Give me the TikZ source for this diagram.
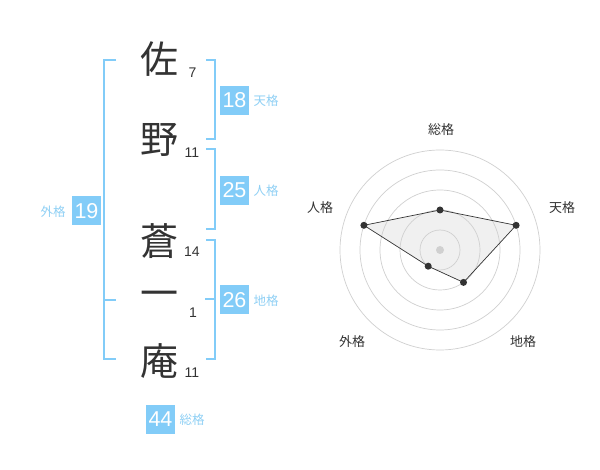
\documentclass[tikz,border=0pt]{standalone}
\usepackage{fontspec}
\setmainfont{Liberation Sans}
\newfontfamily\jp{Noto Sans CJK JP}
\definecolor{bl}{HTML}{82CCF8}
\definecolor{lbl}{HTML}{8FD0F5}
\definecolor{dk}{HTML}{333333}
\definecolor{ring}{HTML}{D0D0D0}
\definecolor{polyfill}{HTML}{F0F0F0}
\tikzset{
  bigchar/.style={inner sep=0pt, text=dk, font=\jp\fontsize{38}{38}\selectfont},
  strokes/.style={inner sep=0pt, text=dk, font=\fontsize{14}{14}\selectfont},
  numbox/.style={fill=bl, text=white, minimum width=29pt, minimum height=29pt, inner sep=0pt, font=\fontsize{21.5}{21.5}\selectfont},
  kaku/.style={inner sep=0pt, text=lbl, font=\jp\fontsize{12.5}{12.5}\selectfont},
  bracket/.style={draw=bl, line width=2pt},
  radlabel/.style={inner sep=0pt, text=dk, font=\jp\fontsize{13}{13}\selectfont},
  ringline/.style={draw=ring, line width=0.7pt},
  vdot/.style={circle, fill=dk, inner sep=0pt, minimum size=7pt},
}
\begin{document}
\begin{tikzpicture}[x=1pt,y=-1pt]
\useasboundingbox[fill=white] (0,0) rectangle (600,470);

% characters
\node[bigchar] (c1) at (159,59) {佐};
\node[bigchar] (c2) at (159,140) {野};
\node[bigchar] (c3) at (159,241) {蒼};
\node[bigchar] (c4) at (159,299) {一};
\node[bigchar] (c5) at (159,361.5) {庵};

% stroke counts
\node[strokes] (s1) at (192.5,72.5) {7};
\node[strokes] (s2) at (192,153) {11};
\node[strokes] (s3) at (192,252) {14};
\node[strokes] (s4) at (193,313) {1};
\node[strokes] (s5) at (192,373) {11};

% brackets
\coordinate (la) at (116,60);
\coordinate (lb) at (116,359);
\draw[bracket] (la) -- (104,60) -- (104,359) -- (lb);
\draw[bracket] (104,300) -- (116,300);
\draw[bracket] (206,60) -- (214.5,60) -- (214.5,139.5) -- (206,139.5);
\draw[bracket] (206,149.5) -- (214.5,149.5) -- (214.5,229.5) -- (206,229.5);
\draw[bracket] (206,240) -- (214.5,240) -- (214.5,359.5) -- (206,359.5);
\draw[bracket] (205,299.5) -- (214.5,299.5);

% number boxes and labels
\node[numbox] (b18) at (234.5,100.5) {18};
\node[kaku] (k18) at (266,101) {天格};
\node[numbox] (b25) at (234.5,190.5) {25};
\node[kaku] (k25) at (266,191) {人格};
\node[numbox] (b26) at (234.5,300) {26};
\node[kaku] (k26) at (266,300.5) {地格};
\node[numbox] (b19) at (86.5,211) {19};
\node[kaku] (k19) at (53,211.5) {外格};
\node[numbox] (b44) at (160.5,419) {44};
\node[kaku] (k44) at (192,419.5) {総格};

% radar chart
\coordinate (ctr) at (440,250);
\coordinate (pso) at (440,210);
\coordinate (pten) at (516.1,225.3);
\coordinate (pchi) at (463.5,282.4);
\coordinate (pgai) at (428.2,266.2);
\coordinate (pjin) at (363.9,225.3);
\fill[polyfill] (pso) -- (pten) -- (pchi) -- (pgai) -- (pjin) -- cycle;
\foreach \r in {20,40,60,80,100} {
  \draw[ringline] (ctr) circle[radius=\r];
}
\fill[ring] (ctr) circle[radius=4];
\draw[dk, line width=0.7pt] (pso) -- (pten) -- (pchi) -- (pgai) -- (pjin) -- cycle;
\foreach \p in {pso,pten,pchi,pgai,pjin} {
  \node[vdot] at (\p) {};
}
\node[radlabel] (rso) at (441,130) {総格};
\node[radlabel] (rten) at (562,208) {天格};
\node[radlabel] (rjin) at (320,208) {人格};
\node[radlabel] (rgai) at (352,342) {外格};
\node[radlabel] (rchi) at (523,342) {地格};
\end{tikzpicture}
\end{document}
